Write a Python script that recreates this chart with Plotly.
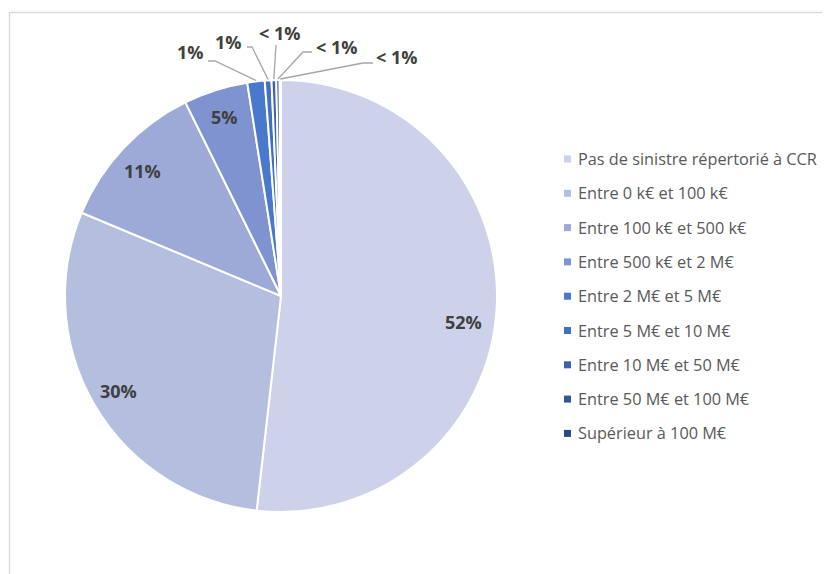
import math
import plotly.graph_objects as go

categories = [
    "Pas de sinistre répertorié à CCR",
    "Entre 0 k€ et 100 k€",
    "Entre 100 k€ et 500 k€",
    "Entre 500 k€ et 2 M€",
    "Entre 2 M€ et 5 M€",
    "Entre 5 M€ et 10 M€",
    "Entre 10 M€ et 50 M€",
    "Entre 50 M€ et 100 M€",
    "Supérieur à 100 M€",
]
values = [51.8, 29.5, 11.4, 4.8, 1.3, 0.5, 0.35, 0.25, 0.1]
value_labels = ["52%", "30%", "11%", "5%", "1%", "1%", "< 1%", "< 1%", "< 1%"]
colors = ["#CDD2EA", "#B4BFE0", "#9DAAD8", "#7F93D0", "#4A78CC",
          "#4170C4", "#3B62AE", "#345897", "#2D4A80"]

W, H = 830, 574
OFF = 8  # page body margin
CX, CY, R = 281, 296, 216


def px(x):
    return (x - OFF) / W


def py(y):
    return 1 - (y - OFF) / H


fig = go.Figure(go.Pie(
    labels=categories, values=values, sort=False, direction="clockwise",
    rotation=0, textinfo="none", hoverinfo="label+percent",
    marker=dict(colors=colors, line=dict(color="white", width=2)),
    domain=dict(x=[px(CX - R), px(CX + R)], y=[py(CY + R), py(CY - R)]),
    showlegend=False,
))

annotations = []
shapes = []

total = sum(values)
cum = 0
mids = []
for v in values:
    mids.append((cum + v / 2) / total * 2 * math.pi)
    cum += v

label_font = dict(family="Open Sans, Liberation Sans, sans-serif", size=18, color="#404040")

# inside labels (large slices) with small placement nudges (pixels)
nudges = [(-5, 15), (0, 0), (-2, 4), (0, 0)]
for i in range(4):
    th = mids[i]
    rr = 0.87 * R
    x = CX + rr * math.sin(th) + nudges[i][0]
    y = CY - rr * math.cos(th) + nudges[i][1]
    annotations.append(dict(x=px(x), y=py(y), xref="paper", yref="paper",
                            text="<b>%s</b>" % value_labels[i], showarrow=False,
                            font=label_font, xanchor="center", yanchor="middle"))

# outside labels with leader lines (layout positions in pixels)
out_label_pos = [(190, 52), (228, 42), (279, 33), (336, 47), (396, 57)]
out_elbows = [[(208, 61), (215, 61)], [(247, 47), (252, 47)], [(276, 45)],
              [(312, 52), (303, 52)], [(373, 63), (363, 63)]]
for k, i in enumerate(range(4, 9)):
    lx, ly = out_label_pos[k]
    annotations.append(dict(x=px(lx), y=py(ly), xref="paper", yref="paper",
                            text="<b>%s</b>" % value_labels[i], showarrow=False,
                            font=label_font, xanchor="center", yanchor="middle"))
    th = mids[i]
    rim = (CX + (R + 1) * math.sin(th), CY - (R + 1) * math.cos(th))
    pts = out_elbows[k] + [rim]
    path = "M %f %f" % (px(pts[0][0]), py(pts[0][1]))
    for (a, b) in pts[1:]:
        path += " L %f %f" % (px(a), py(b))
    shapes.append(dict(type="path", xref="paper", yref="paper", path=path,
                       line=dict(color="#A6A6A6", width=1.3)))

# legend
leg_x, leg_y0, leg_dy = 576, 159, 34.3
for i, c in enumerate(categories):
    y = leg_y0 + i * leg_dy
    shapes.append(dict(type="rect", xref="paper", yref="paper",
                       x0=px(564), x1=px(571), y0=py(y + 3.5), y1=py(y - 3.5),
                       fillcolor=colors[i], line=dict(width=0)))
    annotations.append(dict(x=px(leg_x), y=py(y), xref="paper", yref="paper",
                            text=c, showarrow=False, xanchor="left", yanchor="middle",
                            font=dict(family="Open Sans, sans-serif", size=16.3, color="#595959")))

# chart frame
shapes.append(dict(type="path", xref="paper", yref="paper",
                   path="M %f %f L %f %f L %f %f" % (px(9.5), 0, px(9.5), py(12.5), 1, py(12.5)),
                   line=dict(color="#D9D9D9", width=1.3)))

fig.update_layout(
    width=W, height=H, margin=dict(l=0, r=0, t=0, b=0),
    paper_bgcolor="white", plot_bgcolor="white",
    annotations=annotations, shapes=shapes,
)

fig.write_html("out.html")
